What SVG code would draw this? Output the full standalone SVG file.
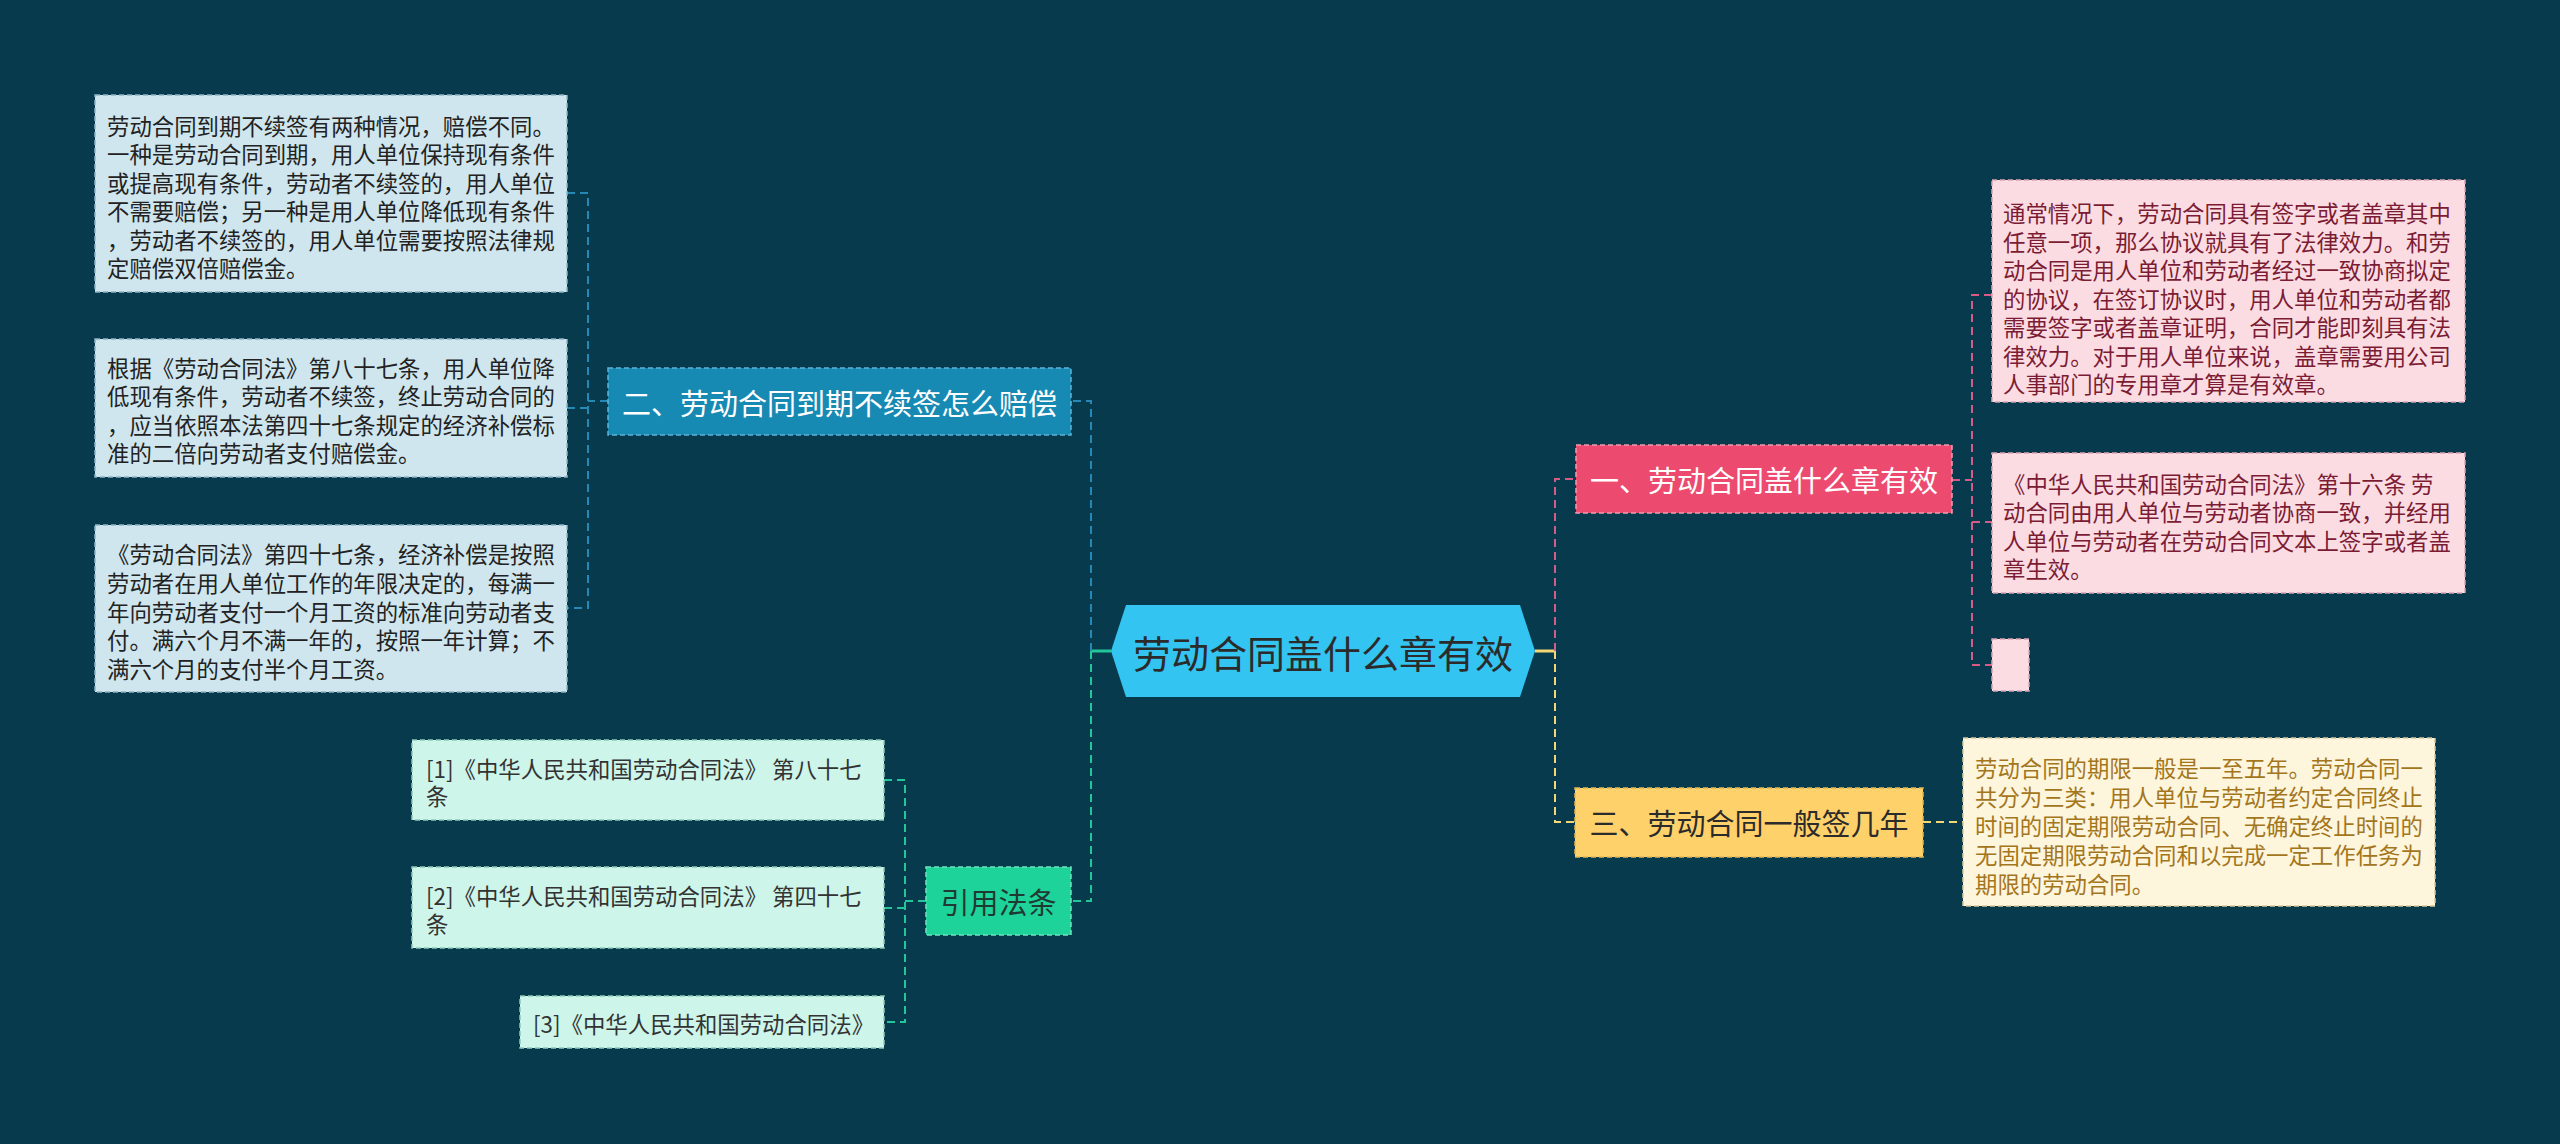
<svg xmlns="http://www.w3.org/2000/svg" width="2560" height="1144" viewBox="0 0 2560 1144">
<style>
text{font-family:"Noto Sans CJK SC","Liberation Sans",sans-serif;dominant-baseline:central}
.leaf{font-size:22.4px}
.br{font-size:29px;text-anchor:middle}
.c{fill:none;stroke-width:2;stroke-dasharray:8 5}
.nb{stroke-width:1.5;stroke-dasharray:5 3}
.cb{stroke:#2589b5}
.cp{stroke:#d45c86}
.cy{stroke:#f3d774}
.cg{stroke:#23c699}
.lb rect{fill:#cfe6ee;stroke:#8fb3c4}
.lb text{fill:#222}
.lp rect{fill:#fcdce3;stroke:#d9a3b3}
.lp text{fill:#7b1c34}
.ly rect{fill:#fdf5dc;stroke:#d8c89a}
.ly text{fill:#a4761c}
.lg rect{fill:#cdf5ea;stroke:#8fc9b8}
.lg text{fill:#333}
</style>
<rect width="2560" height="1144" fill="#083a4d"/>
<g id="connectors">
<line x1="1090" y1="651" x2="1111" y2="651" stroke="#23c699" stroke-width="3"/>
<line x1="1535" y1="651" x2="1555" y2="651" stroke="#f3d774" stroke-width="3"/>
<path class="c cb" d="M1091 651V401H1071"/>
<path class="c cg" d="M1091 651V901H1071"/>
<path class="c cp" d="M1555 651V479H1576"/>
<path class="c cy" d="M1555 651V822H1575"/>
<path class="c cb" d="M608 401H588M567 193H588V608H567M567 408H588"/>
<path class="c cp" d="M1952 480H1972M1992 295H1972V665H1992M1972 522H1992"/>
<path class="c cy" d="M1923 822H1963"/>
<path class="c cg" d="M926 901H905M884 780H905V1022H884M884 908H905"/>
</g>
<g id="center">
<polygon points="1111,651 1126,605 1520,605 1535,651 1520,697 1126,697" fill="#33c4f2"/>
<text x="1323" y="651" font-size="38" text-anchor="middle" fill="#2b2b2b">劳动合同盖什么章有效</text>
</g>
<g id="branch1">
<rect x="1576" y="445" width="376" height="68" fill="#ec4b6f" stroke="#f59ab0" class="nb"/>
<text class="br" x="1764" y="479" fill="#fff">一、劳动合同盖什么章有效</text>
</g>
<g id="branch2">
<rect x="608" y="368" width="463" height="67" fill="#178ab4" stroke="#5fb3d3" class="nb"/>
<text class="br" x="839.5" y="401.5" fill="#fff">二、劳动合同到期不续签怎么赔偿</text>
</g>
<g id="branch3">
<rect x="1575" y="788" width="348" height="69" fill="#ffd16b" stroke="#e3b650" class="nb"/>
<text class="br" x="1749" y="822" fill="#2b2b2b">三、劳动合同一般签几年</text>
</g>
<g id="branch4">
<rect x="926" y="867" width="145" height="68" fill="#1ed39a" stroke="#6fe3bd" class="nb"/>
<text class="br" x="998.5" y="901" fill="#1f3a33">引用法条</text>
</g>
<g id="leaf-l1" class="lb">
<rect x="95" y="95" width="472" height="197" class="nb"/>
<text class="leaf"><tspan x="107" y="125">劳动合同到期不续签有两种情况，赔偿不同。</tspan><tspan x="107" y="153.4">一种是劳动合同到期，用人单位保持现有条件</tspan><tspan x="107" y="181.8">或提高现有条件，劳动者不续签的，用人单位</tspan><tspan x="107" y="210.2">不需要赔偿；另一种是用人单位降低现有条件</tspan><tspan x="107" y="238.6">，劳动者不续签的，用人单位需要按照法律规</tspan><tspan x="107" y="267">定赔偿双倍赔偿金。</tspan></text>
</g>
<g id="leaf-l2" class="lb">
<rect x="95" y="339" width="472" height="138" class="nb"/>
<text class="leaf"><tspan x="107" y="367">根据《劳动合同法》第八十七条，用人单位降</tspan><tspan x="107" y="395.3">低现有条件，劳动者不续签，终止劳动合同的</tspan><tspan x="107" y="423.6">，应当依照本法第四十七条规定的经济补偿标</tspan><tspan x="107" y="452">准的二倍向劳动者支付赔偿金。</tspan></text>
</g>
<g id="leaf-l3" class="lb">
<rect x="95" y="525" width="472" height="167" class="nb"/>
<text class="leaf"><tspan x="107" y="553">《劳动合同法》第四十七条，经济补偿是按照</tspan><tspan x="107" y="581.75">劳动者在用人单位工作的年限决定的，每满一</tspan><tspan x="107" y="610.5">年向劳动者支付一个月工资的标准向劳动者支</tspan><tspan x="107" y="639.25">付。满六个月不满一年的，按照一年计算；不</tspan><tspan x="107" y="668">满六个月的支付半个月工资。</tspan></text>
</g>
<g id="leaf-p1" class="lp">
<rect x="1992" y="180" width="473" height="222" class="nb"/>
<text class="leaf"><tspan x="2003" y="212">通常情况下，劳动合同具有签字或者盖章其中</tspan><tspan x="2003" y="240.5">任意一项，那么协议就具有了法律效力。和劳</tspan><tspan x="2003" y="269">动合同是用人单位和劳动者经过一致协商拟定</tspan><tspan x="2003" y="297.5">的协议，在签订协议时，用人单位和劳动者都</tspan><tspan x="2003" y="326">需要签字或者盖章证明，合同才能即刻具有法</tspan><tspan x="2003" y="354.5">律效力。对于用人单位来说，盖章需要用公司</tspan><tspan x="2003" y="383">人事部门的专用章才算是有效章。</tspan></text>
</g>
<g id="leaf-p2" class="lp">
<rect x="1992" y="453" width="473" height="140" class="nb"/>
<text class="leaf"><tspan x="2003" y="483">《中华人民共和国劳动合同法》第十六条 劳</tspan><tspan x="2003" y="511.3">动合同由用人单位与劳动者协商一致，并经用</tspan><tspan x="2003" y="539.6">人单位与劳动者在劳动合同文本上签字或者盖</tspan><tspan x="2003" y="568">章生效。</tspan></text>
</g>
<g id="leaf-p3" class="lp">
<rect x="1992" y="639" width="37" height="52" class="nb"/>
</g>
<g id="leaf-y1" class="ly">
<rect x="1963" y="738" width="472" height="168" class="nb"/>
<text class="leaf"><tspan x="1975" y="767">劳动合同的期限一般是一至五年。劳动合同一</tspan><tspan x="1975" y="796">共分为三类：用人单位与劳动者约定合同终止</tspan><tspan x="1975" y="825">时间的固定期限劳动合同、无确定终止时间的</tspan><tspan x="1975" y="854">无固定期限劳动合同和以完成一定工作任务为</tspan><tspan x="1975" y="883">期限的劳动合同。</tspan></text>
</g>
<g id="leaf-g1" class="lg">
<rect x="412" y="740" width="472" height="80" class="nb"/>
<text class="leaf"><tspan x="426" y="768">[1]《中华人民共和国劳动合同法》 第八十七</tspan><tspan x="426" y="795">条</tspan></text>
</g>
<g id="leaf-g2" class="lg">
<rect x="412" y="867" width="472" height="81" class="nb"/>
<text class="leaf"><tspan x="426" y="895">[2]《中华人民共和国劳动合同法》 第四十七</tspan><tspan x="426" y="923">条</tspan></text>
</g>
<g id="leaf-g3" class="lg">
<rect x="520" y="996" width="364" height="52" class="nb"/>
<text class="leaf" x="533" y="1023">[3]《中华人民共和国劳动合同法》</text>
</g>
</svg>
